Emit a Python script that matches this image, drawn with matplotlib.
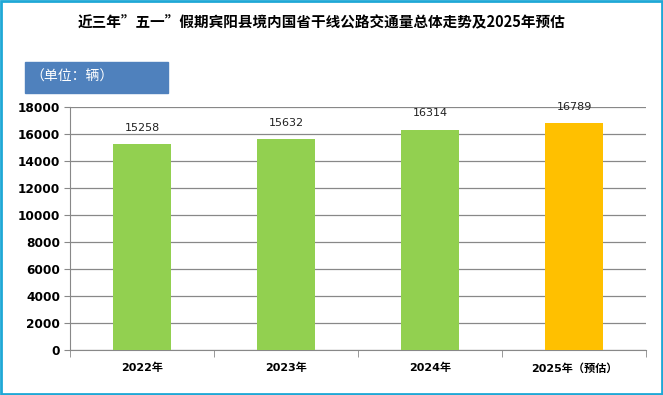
import matplotlib.pyplot as plt
from matplotlib.patches import Rectangle
import numpy as np

plt.rcParams['font.family'] = ['Noto Sans CJK SC', 'DejaVu Sans']
num_font = ['DejaVu Sans', 'Noto Sans CJK SC']

# data
categories = ['2022年', '2023年', '2024年', '2025年（预估）']
values = [15258, 15632, 16314, 16789]
bar_colors = ['#92D050', '#92D050', '#92D050', '#FFC000']
yticks = np.arange(0, 18001, 2000)

fig = plt.figure(figsize=(6.63, 3.95), dpi=100)
ax = fig.add_axes([0.1056, 0.1127, 0.8688, 0.6164])

x = np.arange(len(categories))
ax.bar(x, values, width=0.40, color=bar_colors, zorder=3)

for xi, v in zip(x, values):
    ax.text(xi, v + 850, str(v), ha='center', va='bottom', fontsize=8,
            color='#222222', family=num_font)

ax.set_xlim(-0.5, len(categories) - 0.5)
ax.set_ylim(0, 18000)
ax.set_yticks(yticks)
ax.set_yticklabels([str(t) for t in yticks], fontsize=8.7, fontweight='bold', family=num_font)
ax.yaxis.grid(True, color='#888888', linewidth=0.9, zorder=0)

# x labels centred, ticks on category boundaries
ax.set_xticks(x)
ax.set_xticklabels(categories, fontsize=8, fontweight='bold', family=num_font)
ax.tick_params(axis='x', length=0, pad=9)
ax.set_xticks(np.arange(-0.5, len(categories)), minor=True)
ax.tick_params(axis='x', which='minor', length=5, color='#888888', direction='out')
ax.tick_params(axis='y', length=4, color='#888888', pad=3)

for s in ['top', 'right']:
    ax.spines[s].set_visible(False)
for s in ['left', 'bottom']:
    ax.spines[s].set_color('#888888')

fig.text(0.485, 0.944, '近三年”五一”假期宾阳县境内国省干线公路交通量总体走势及2025年预估',
         ha='center', va='center', fontsize=10.5, fontweight='bold')

# unit box
fig.patches.append(Rectangle((25 / 663, 1 - 93 / 395), 143 / 663, 31 / 395,
                             transform=fig.transFigure, color='#4F81BD', zorder=1))
fig.text(30 / 663, 1 - 77 / 395, '（单位：辆）', ha='left', va='center',
         fontsize=10, color='white')

# outer border
fig.patches.append(Rectangle((0.002, 0.003), 0.996, 0.994, transform=fig.transFigure,
                             fill=False, edgecolor='#1FA8D6', linewidth=2))

fig.savefig('out.png', dpi=100)
